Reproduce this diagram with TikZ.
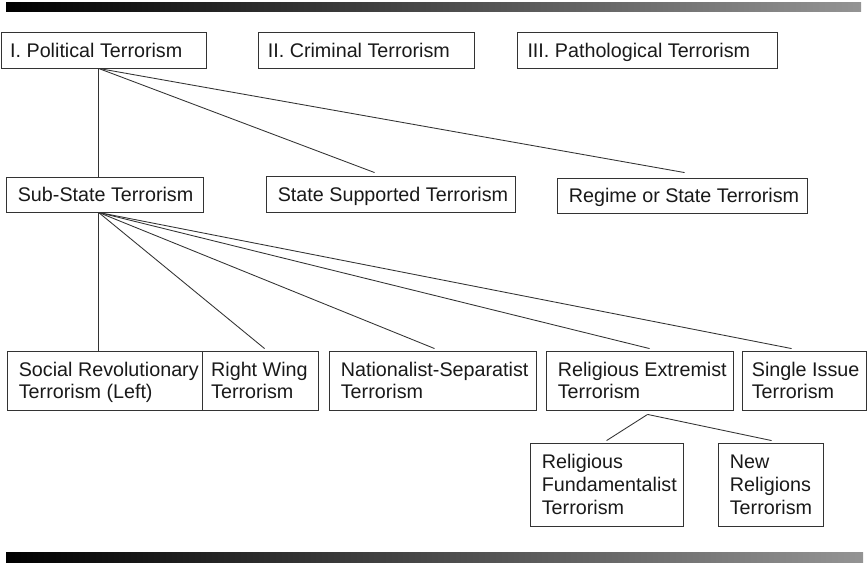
\documentclass[tikz,border=0pt]{standalone}
\usepackage{fontspec}
\setmainfont{Liberation Sans}
\usetikzlibrary{calc,fit}
\begin{document}
\begin{tikzpicture}[x=0.75pt,y=-0.75pt,
  box/.style={draw=black!80, line width=0.65pt, rectangle, inner sep=0pt},
  lbl/.style={anchor=west, align=left, inner sep=0pt, yshift=-1.95pt,
    font=\fontsize{14.8}{17}\selectfont, text=black!90},
  conn/.style={draw=black!80, line width=0.65pt},
  bar/.style={left color=black, right color=black!42}]
\useasboundingbox (0,0) rectangle (867,563);
% decorative bars
\shade[bar] (6,3) rectangle (861,12);
\shade[bar] (6,552) rectangle (863,562);
% row 1
\node[box, fit={(1,32) (206,68)}] (pol) {};
\node[lbl] (polt) at ([xshift=7pt]pol.west) {I. Political Terrorism\strut};
\node[box, fit={(258,32) (474,68)}] (crim) {};
\node[lbl] (crimt) at ([xshift=7.5pt]crim.west) {II. Criminal Terrorism\strut};
\node[box, fit={(517,32) (777,68)}] (path) {};
\node[lbl] (patht) at ([xshift=8pt]path.west) {III. Pathological Terrorism\strut};
% row 2
\node[box, fit={(6,177) (203,212)}] (sub) {};
\node[lbl] (subt) at ([xshift=9pt]sub.west) {Sub-State Terrorism\strut};
\node[box, fit={(266,176) (515,212)}] (ssup) {};
\node[lbl] (ssupt) at ([xshift=9pt]ssup.west) {State Supported Terrorism\strut};
\node[box, fit={(557,178) (807,213)}] (reg) {};
\node[lbl] (regt) at ([xshift=9pt]reg.west) {Regime or State Terrorism\strut};
% row 3
\node[box, fit={(7,351) (202,410)}] (soc) {};
\node[lbl] (soct) at ([xshift=9pt]soc.west) {Social Revolutionary\strut\\Terrorism (Left)\strut};
\node[box, fit={(202,351) (318,410)}] (rw) {};
\node[lbl] (rwt) at ([xshift=7pt]rw.west) {Right Wing\strut\\Terrorism\strut};
\node[box, fit={(329,351) (536,410)}] (nat) {};
\node[lbl] (natt) at ([xshift=9pt]nat.west) {Nationalist-Separatist\strut\\Terrorism\strut};
\node[box, fit={(546,351) (733,410)}] (relex) {};
\node[lbl] (relext) at ([xshift=9pt]relex.west) {Religious Extremist\strut\\Terrorism\strut};
\node[box, fit={(742,351) (866,410)}] (single) {};
\node[lbl] (singlet) at ([xshift=7.5pt]single.west) {Single Issue\strut\\Terrorism\strut};
% row 4
\node[box, fit={(530,443) (683,526)}] (fund) {};
\node[lbl] (fundt) at ([xshift=9pt]fund.west) {Religious\strut\\Fundamentalist\strut\\Terrorism\strut};
\node[box, fit={(718,443) (823,526)}] (newrel) {};
\node[lbl] (newrelt) at ([xshift=9pt]newrel.west) {New\strut\\Religions\strut\\Terrorism\strut};
% connectors
\draw[conn] ($(pol.south west)+(98,0)$) -- ($(sub.north west)+(93,0)$);
\draw[conn] ($(pol.south west)+(98,0)$) -- ($(ssup.north west)+(109,-3)$);
\draw[conn] ($(pol.south west)+(98,0)$) -- ($(reg.north west)+(128,-5)$);
\draw[conn] ($(sub.south west)+(93,0)$) -- ($(soc.north west)+(92,0)$);
\draw[conn] ($(sub.south west)+(93,0)$) -- ($(rw.north west)+(63,-2)$);
\draw[conn] ($(sub.south west)+(93,0)$) -- ($(nat.north west)+(106,-2)$);
\draw[conn] ($(sub.south west)+(93,0)$) -- ($(relex.north west)+(104,-2)$);
\draw[conn] ($(sub.south west)+(93,0)$) -- ($(single.north west)+(50,-2)$);
\draw[conn] ($(relex.south west)+(102,4)$) -- ($(fund.north west)+(77,-2)$);
\draw[conn] ($(relex.south west)+(102,4)$) -- ($(newrel.north west)+(54,-2)$);
\end{tikzpicture}
\end{document}
